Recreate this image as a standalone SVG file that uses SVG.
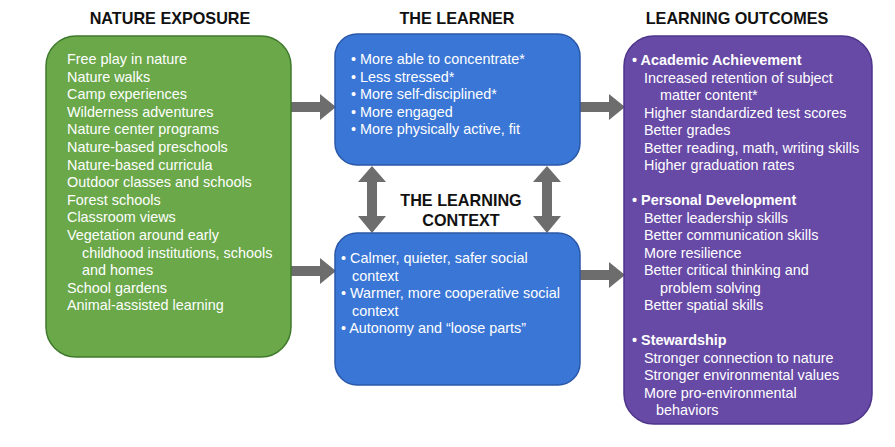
<svg xmlns="http://www.w3.org/2000/svg" width="895" height="447" viewBox="0 0 895 447">
<style>
text{font-family:"Liberation Sans",Arial,sans-serif}
.h{font-size:16.2px;font-weight:bold;fill:#111;text-anchor:middle}
.t{font-size:14.4px;fill:#fff}
.b{font-weight:bold}
.ar{fill:#6d6d6d}
</style>
<rect width="895" height="447" fill="#fff"/>
<text class="h" x="170" y="24">NATURE EXPOSURE</text>
<text class="h" x="457" y="24">THE LEARNER</text>
<text class="h" x="737" y="24">LEARNING OUTCOMES</text>
<text class="h" x="461" y="206">THE LEARNING</text>
<text class="h" x="461" y="226">CONTEXT</text>
<g id="connectors" class="ar">
<polygon points="291,102 320,102 320,94 336,107 320,120 320,112 291,112"/>
<polygon points="291,266 320,266 320,258 336,271 320,284 320,276 291,276"/>
<polygon points="580,102 609,102 609,94 625,107 609,120 609,112 580,112"/>
<polygon points="580,270 609,270 609,262 625,275 609,288 609,280 580,280"/>
<polygon points="367,182 367,216 358,216 372,233 386,216 377,216 377,182 386,182 372,166 358,182"/>
<polygon points="542,182 542,216 533,216 547,233 561,216 552,216 552,182 561,182 547,166 533,182"/>
</g>
<g id="nature">
<rect x="46" y="36" width="245" height="321" rx="30" fill="#6aa84a" stroke="#3f7a2c" stroke-width="1.5"/>
<text class="t"><tspan x="67" y="64">Free play in nature</tspan><tspan x="67" y="81.6">Nature walks</tspan><tspan x="67" y="99.2">Camp experiences</tspan><tspan x="67" y="116.8">Wilderness adventures</tspan><tspan x="67" y="134.4">Nature center programs</tspan><tspan x="67" y="152">Nature-based preschools</tspan><tspan x="67" y="169.6">Nature-based curricula</tspan><tspan x="67" y="187.2">Outdoor classes and schools</tspan><tspan x="67" y="204.8">Forest schools</tspan><tspan x="67" y="222.4">Classroom views</tspan><tspan x="67" y="240">Vegetation around early</tspan><tspan x="82" y="257.6">childhood institutions, schools</tspan><tspan x="82" y="275.2">and homes</tspan><tspan x="67" y="292.8">School gardens</tspan><tspan x="67" y="310.4">Animal-assisted learning</tspan></text>
</g>
<g id="learner">
<rect x="335" y="34" width="245" height="131" rx="22" fill="#3a76d6" stroke="#2a58a8" stroke-width="1.5"/>
<text class="t"><tspan x="351" y="64">• More able to concentrate*</tspan><tspan x="351" y="81.5">• Less stressed*</tspan><tspan x="351" y="99">• More self-disciplined*</tspan><tspan x="351" y="116.5">• More engaged</tspan><tspan x="351" y="134">• More physically active, fit</tspan></text>
</g>
<g id="context">
<rect x="335" y="233" width="245" height="152" rx="22" fill="#3a76d6" stroke="#2a58a8" stroke-width="1.5"/>
<text class="t"><tspan x="341" y="263">• Calmer, quieter, safer social</tspan><tspan x="352" y="280.5">context</tspan><tspan x="341" y="298">• Warmer, more cooperative social</tspan><tspan x="352" y="315.5">context</tspan><tspan x="341" y="333">• Autonomy and “loose parts”</tspan></text>
</g>
<g id="outcomes">
<rect x="624" y="36" width="248" height="388" rx="30" fill="#6749a6" stroke="#4e358a" stroke-width="1.5"/>
<text class="t"><tspan x="632" y="65" class="b">• Academic Achievement</tspan><tspan x="644" y="82.5">Increased retention of subject</tspan><tspan x="660" y="100">matter content*</tspan><tspan x="644" y="117.5">Higher standardized test scores</tspan><tspan x="644" y="135">Better grades</tspan><tspan x="644" y="152.5">Better reading, math, writing skills</tspan><tspan x="644" y="170">Higher graduation rates</tspan><tspan x="632" y="205" class="b">• Personal Development</tspan><tspan x="644" y="222.5">Better leadership skills</tspan><tspan x="644" y="240">Better communication skills</tspan><tspan x="644" y="257.5">More resilience</tspan><tspan x="644" y="275">Better critical thinking and</tspan><tspan x="660" y="292.5">problem solving</tspan><tspan x="644" y="310">Better spatial skills</tspan><tspan x="632" y="345" class="b">• Stewardship</tspan><tspan x="644" y="362.5">Stronger connection to nature</tspan><tspan x="644" y="380">Stronger environmental values</tspan><tspan x="644" y="397.5">More pro-environmental</tspan><tspan x="656" y="415">behaviors</tspan></text>
</g>
</svg>
